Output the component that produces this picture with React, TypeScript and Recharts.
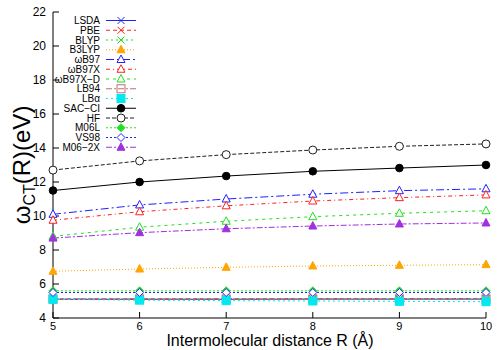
import React from 'react';
import { LineChart, Line, XAxis, YAxis } from 'recharts';

// intermolecular distance R (Å)
const distances = [5, 6, 7, 8, 9, 10];

// omega_CT(R) in eV
const lsda = [5.1, 5.1, 5.1, 5.11, 5.11, 5.11];
const pbe = [5.12, 5.13, 5.13, 5.14, 5.14, 5.15];
const blyp = [5.1, 5.11, 5.11, 5.12, 5.12, 5.12];
const b3lyp = [6.75, 6.88, 6.98, 7.06, 7.1, 7.14];
const wb97 = [10.1, 10.65, 11.0, 11.28, 11.49, 11.6];
const wb97x = [9.75, 10.25, 10.6, 10.88, 11.08, 11.24];
const wb97xd = [8.8, 9.34, 9.69, 9.96, 10.16, 10.31];
const lb94 = [5.12, 5.12, 5.12, 5.12, 5.12, 5.12];
const lbAlpha = [5.1, 5.05, 5.02, 5.0, 4.98, 4.96];
const sacCi = [11.5, 12.0, 12.35, 12.63, 12.82, 13.0];
const hf = [12.7, 13.24, 13.61, 13.88, 14.1, 14.24];
const m06l = [5.6, 5.6, 5.6, 5.6, 5.6, 5.6];
const vs98 = [5.5, 5.5, 5.5, 5.5, 5.5, 5.5];
const m062x = [8.7, 9.02, 9.25, 9.41, 9.53, 9.59];

const xTicks = [5, 6, 7, 8, 9, 10];
const yTicks = [4, 6, 8, 10, 12, 14, 16, 18, 20, 22];

type Shape =
  | 'cross'
  | 'triFill'
  | 'triOpen'
  | 'sqOpen'
  | 'sqFill'
  | 'circFill'
  | 'circOpen'
  | 'diaFill'
  | 'diaOpen';

interface Series {
  key: string;
  name: string;
  values: number[];
  color: string;
  dash?: string;
  shape: Shape;
}

const series: Series[] = [
  { key: 'lsda', name: 'LSDA', values: lsda, color: '#2020ff', shape: 'cross' },
  { key: 'pbe', name: 'PBE', values: pbe, color: '#ff2020', dash: '4 3', shape: 'cross' },
  { key: 'blyp', name: 'BLYP', values: blyp, color: '#20e020', dash: '2 3', shape: 'cross' },
  { key: 'b3lyp', name: 'B3LYP', values: b3lyp, color: '#ffa500', dash: '1 2', shape: 'triFill' },
  { key: 'wb97', name: 'ωB97', values: wb97, color: '#2020ff', dash: '8 3 2 3', shape: 'triOpen' },
  { key: 'wb97x', name: 'ωB97X', values: wb97x, color: '#ff2020', dash: '4 3 1 3', shape: 'triOpen' },
  { key: 'wb97xd', name: 'ωB97X−D', values: wb97xd, color: '#20e020', dash: '3 4', shape: 'triOpen' },
  { key: 'lb94', name: 'LB94', values: lb94, color: '#c07070', dash: '6 2 2 2', shape: 'sqOpen' },
  { key: 'lbAlpha', name: 'LBα', values: lbAlpha, color: '#00e8f0', dash: '2 3', shape: 'sqFill' },
  { key: 'sacCi', name: 'SAC−CI', values: sacCi, color: '#000000', shape: 'circFill' },
  { key: 'hf', name: 'HF', values: hf, color: '#202020', dash: '4 2', shape: 'circOpen' },
  { key: 'm06l', name: 'M06L', values: m06l, color: '#20e020', dash: '2 2', shape: 'diaFill' },
  { key: 'vs98', name: 'VS98', values: vs98, color: '#2020ff', dash: '2 2', shape: 'diaOpen' },
  { key: 'm062x', name: 'M06−2X', values: m062x, color: '#a030e0', dash: '6 2 2 2', shape: 'triFill' },
];

const data = distances.map((r, i) => {
  const row: Record<string, number> = { r };
  series.forEach((s) => {
    row[s.key] = s.values[i];
  });
  return row;
});

const font = '"Liberation Sans", Arial, Helvetica, sans-serif';

const Marker = ({ shape, cx, cy, color }: { shape: Shape; cx: number; cy: number; color: string }) => {
  switch (shape) {
    case 'cross':
      return (
        <g stroke={color} strokeWidth={1}>
          <line x1={cx - 3.5} y1={cy - 3.5} x2={cx + 3.5} y2={cy + 3.5} />
          <line x1={cx - 3.5} y1={cy + 3.5} x2={cx + 3.5} y2={cy - 3.5} />
        </g>
      );
    case 'triFill':
    case 'triOpen':
      return (
        <polygon
          points={`${cx},${cy - 4.5} ${cx - 4},${cy + 3} ${cx + 4},${cy + 3}`}
          fill={shape === 'triFill' ? color : 'white'}
          stroke={color}
          strokeWidth={1}
        />
      );
    case 'sqOpen':
      return <rect x={cx - 4} y={cy - 4} width={8} height={8} fill="none" stroke={color} strokeWidth={1} />;
    case 'sqFill':
      return <rect x={cx - 4} y={cy - 4} width={8} height={8} fill={color} stroke={color} />;
    case 'circFill':
      return <circle cx={cx} cy={cy} r={3.8} fill={color} stroke={color} />;
    case 'circOpen':
      return <circle cx={cx} cy={cy} r={4} fill="white" stroke={color} strokeWidth={1} />;
    case 'diaFill':
    case 'diaOpen':
      return (
        <polygon
          points={`${cx},${cy - 4} ${cx + 4},${cy} ${cx},${cy + 4} ${cx - 4},${cy}`}
          fill={shape === 'diaFill' ? color : 'white'}
          stroke={color}
          strokeWidth={1}
        />
      );
    default:
      return null;
  }
};

const KeyBox = () => (
  <div style={{ position: 'absolute', left: 40, top: 10 }}>
    <svg width={110} height={145}>
      {series.map((s, i) => {
        const y = 10.5 + i * 9.75;
        return (
          <g key={s.key}>
            <text x={60} y={y} textAnchor="end" dominantBaseline="central" fontSize={10} fontFamily={font} fill="#000">
              {s.name}
            </text>
            <line x1={66} x2={96} y1={y} y2={y} stroke={s.color} strokeDasharray={s.dash} strokeWidth={1} />
            <Marker shape={s.shape} cx={81} cy={y} color={s.color} />
          </g>
        );
      })}
    </svg>
  </div>
);

const AxisTitles = () => (
  <svg width={500} height={350} style={{ position: 'absolute', left: 0, top: 0, pointerEvents: 'none' }}>
    <text x={270} y={346} textAnchor="middle" fontSize={16} fontFamily={font} fill="#000">
      Intermolecular distance R (Å)
    </text>
    <text
      x={0}
      y={0}
      transform="translate(30 165) rotate(-90)"
      textAnchor="middle"
      fontSize={24}
      fontFamily={font}
      fill="#000"
    >
      ω
      <tspan fontSize={16} dy={5}>
        CT
      </tspan>
      <tspan dy={-5}>(R)(eV)</tspan>
    </text>
  </svg>
);

export default function App() {
  return (
    <div style={{ position: 'absolute', left: 0, top: 0, width: 500, height: 350, background: '#fff' }}>
      <LineChart width={500} height={350} data={data} margin={{ top: 12, right: 14, left: 0, bottom: 0 }}>
        <XAxis
          dataKey="r"
          type="number"
          domain={[5, 10]}
          ticks={xTicks}
          height={32}
          stroke="#000"
          tickSize={-6}
          tickMargin={10}
          tick={{ fill: '#000', fontSize: 11, fontFamily: font }}
        />
        <XAxis
          xAxisId="top"
          dataKey="r"
          type="number"
          orientation="top"
          domain={[5, 10]}
          ticks={xTicks}
          height={0}
          stroke="#000"
          tickSize={-6}
          tick={false}
        />
        <YAxis
          type="number"
          domain={[4, 22]}
          ticks={yTicks}
          width={53}
          stroke="#000"
          tickSize={-6}
          tickMargin={13}
          tick={{ fill: '#000', fontSize: 12, fontFamily: font }}
        />
        <YAxis
          yAxisId="right"
          orientation="right"
          type="number"
          domain={[4, 22]}
          ticks={yTicks}
          width={0}
          stroke="#000"
          tickSize={-6}
          tick={false}
        />
        {series.map((s) => (
          <Line
            key={s.key}
            dataKey={s.key}
            name={s.name}
            type="linear"
            stroke={s.color}
            strokeWidth={1}
            strokeDasharray={s.dash}
            isAnimationActive={false}
            dot={(p: any) => <Marker key={`${s.key}-${p.index}`} shape={s.shape} cx={p.cx} cy={p.cy} color={s.color} />}
            activeDot={false}
          />
        ))}
      </LineChart>
      <KeyBox />
      <AxisTitles />
    </div>
  );
}
